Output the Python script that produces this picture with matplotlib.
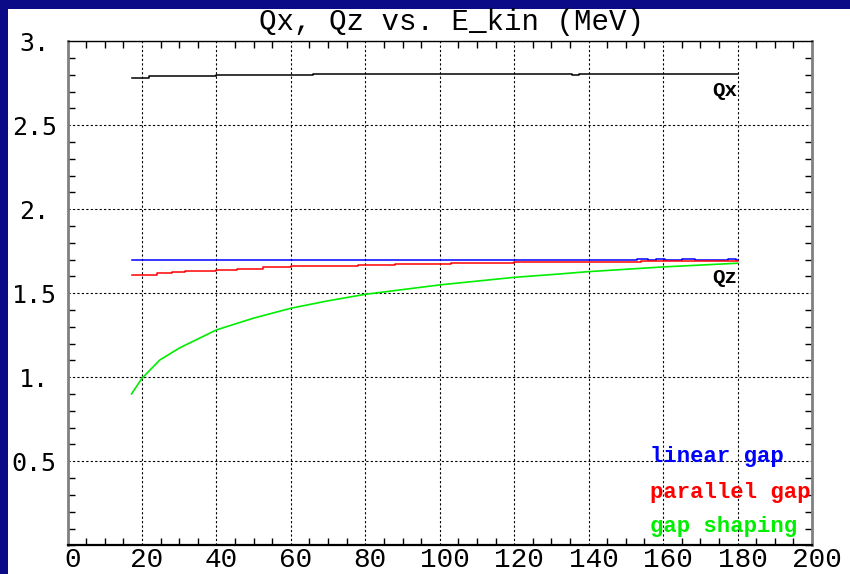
import matplotlib
matplotlib.use('Agg')
import matplotlib.pyplot as plt
import matplotlib.patches as mpatches
import matplotlib.transforms as mtransforms
from matplotlib.ticker import MultipleLocator

# ── data ─────────────────────────────────────────────────────────────────────
qx_e = [17.3, 22, 40, 66, 100, 135.5, 137.5, 139, 180]
qx   = [2.780, 2.792, 2.800, 2.805, 2.807, 2.802, 2.806, 2.808, 2.808]

lin_e = [17.2, 153, 156, 158, 160.5, 165, 168.5, 177.5, 179.5, 180]
lin   = [1.696, 1.702, 1.696, 1.702, 1.696, 1.702, 1.696, 1.702, 1.696, 1.696]

par_e = [17.2, 24, 28, 31.5, 40, 45.5, 52.5, 60, 78, 88, 103, 120, 154, 180]
par   = [1.609, 1.619, 1.627, 1.633, 1.639, 1.646, 1.655, 1.661, 1.667,
         1.674, 1.680, 1.686, 1.693, 1.694]

shp_e = [17.2, 20, 24.8, 30.2, 40, 49.8, 60, 69.7, 80, 100, 120, 131, 140, 160, 180]
shp   = [0.901, 0.994, 1.103, 1.176, 1.282, 1.351, 1.411, 1.454, 1.494,
         1.550, 1.595, 1.613, 1.629, 1.657, 1.679]

x_ticks  = list(range(0, 201, 20))
y_ticks  = [0.5, 1.0, 1.5, 2.0, 2.5, 3.0]
y_labels = ['0.5', '1.', '1.5', '2.', '2.5', '3.']

legend_items = [('linear gap', '#0000ff'),
                ('parallel gap', '#ff0000'),
                ('gap shaping', '#00ee00')]

W, H = 850, 574
fig = plt.figure(figsize=(W / 100, H / 100), dpi=100, facecolor='#0b0b88')
fig.add_artist(mpatches.Rectangle((8 / W, 0), 1, 1 - 9 / H, transform=fig.transFigure,
                                  facecolor='white', edgecolor='none', zorder=-1))

ax = fig.add_axes([67.5 / W, 1 - 545.3 / H, 744.5 / W, 504 / H])
ax.set_facecolor('white')

ax.step(qx_e, qx, where='post', color='black', lw=1.1)
ax.step(lin_e, lin, where='post', color=legend_items[0][1], lw=1.1)
ax.step(par_e, par, where='post', color=legend_items[1][1], lw=1.1)
ax.plot(shp_e, shp, color=legend_items[2][1], lw=1.2)

ax.set_xlim(0, 200)
ax.set_ylim(0, 3)
ax.set_xticks(x_ticks)
ax.set_xticklabels([str(v) for v in x_ticks], family='Liberation Mono', fontsize=20)
ax.set_yticks(y_ticks)
ax.set_yticklabels(y_labels, family='DejaVu Sans Mono', fontsize=18, ha='center')
ax.xaxis.set_minor_locator(MultipleLocator(5))
ax.yaxis.set_minor_locator(MultipleLocator(0.1))

ax.tick_params(which='major', length=0)
ax.tick_params(axis='x', which='major', pad=1)
ax.tick_params(axis='y', which='major', pad=24)
ax.tick_params(which='minor', direction='in', length=5, width=1,
               top=True, right=True, color='black')

shift = mtransforms.ScaledTranslation(5 / 100, 0, fig.dpi_scale_trans)
for lbl in ax.get_xticklabels():
    lbl.set_transform(lbl.get_transform() + shift)

ax.grid(True, which='major', color='black', linestyle=(0, (2, 2)), linewidth=0.8)
ax.set_axisbelow(True)

ax.spines['left'].set_color('#808080')
ax.spines['left'].set_linewidth(2)
ax.spines['right'].set_color('#808080')
ax.spines['right'].set_linewidth(2)
ax.spines['bottom'].set_linewidth(1.6)
ax.spines['top'].set_linewidth(1)

ax.text(180, 2.71, 'Qx', ha='right', va='center', family='Liberation Mono',
        fontweight='bold', fontsize=15)
ax.text(180, 1.594, 'Qz', ha='right', va='center', family='Liberation Mono',
        fontweight='bold', fontsize=15)

for i, (txt, col) in enumerate(legend_items):
    ax.text(0.7824, [0.1758, 0.1038, 0.0369][i], txt, color=col, ha='left', va='center',
            transform=ax.transAxes, family='Liberation Mono', fontweight='bold',
            fontsize=16)

fig.text(451 / W, 1 - 22 / H, 'Qx, Qz vs. E_kin (MeV)', ha='center', va='center',
         family='Liberation Mono', fontsize=21)

plt.savefig('out.png', dpi=100, facecolor=fig.get_facecolor())
plt.close()
